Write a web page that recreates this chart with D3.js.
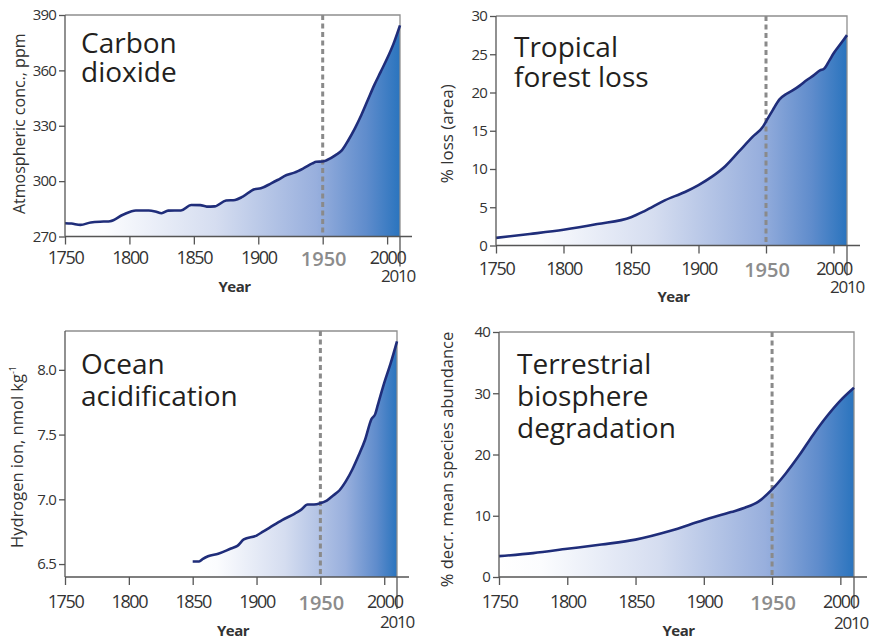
<!DOCTYPE html>
<html>
<head>
<meta charset="utf-8">
<script src="https://cdn.jsdelivr.net/npm/d3@7"></script>
<style>
	body { margin: 0; background: #ffffff; }
	svg { display: block; font-family: "Open Sans", sans-serif; }
</style>
</head>
<body>
<div id="chart"></div>
<script>
// Data:
var co2_years = [1750, 1755, 1762, 1770, 1780, 1785, 1795, 1805, 1815, 1820, 1825, 1830, 1840, 1848, 1855, 1860, 1866, 1875, 1882, 1888, 1897, 1902, 1910, 1915, 1922, 1928, 1935, 1942, 1945, 1950, 1953, 1960, 1965, 1970, 1975, 1980, 1985, 1990, 1995, 2000, 2005, 2010];
var co2_values = [277.2, 277.0, 276.3, 277.6, 278.1, 278.3, 281.8, 284.1, 284.1, 283.6, 282.6, 284.0, 284.1, 287.1, 287.0, 286.2, 286.3, 289.5, 289.8, 291.6, 295.6, 296.1, 298.8, 300.6, 303.3, 304.6, 306.9, 309.6, 310.5, 310.6, 311.3, 314.1, 316.8, 322.3, 328.6, 335.8, 343.9, 352.0, 359.2, 366.4, 374.5, 384.4];

var forest_years = [1750, 1775, 1800, 1825, 1850, 1860, 1875, 1890, 1900, 1910, 1920, 1930, 1940, 1948, 1950, 1955, 1960, 1965, 1970, 1975, 1980, 1985, 1990, 1993, 1997, 2000, 2005, 2010];
var forest_values = [1.0, 1.5, 2.05, 2.8, 3.7, 4.5, 5.9, 7.0, 7.9, 9.0, 10.4, 12.3, 14.2, 15.6, 16.2, 17.7, 19.1, 19.8, 20.3, 20.9, 21.6, 22.2, 22.9, 23.1, 24.2, 25.1, 26.3, 27.5];

var ocean_years = [1850, 1855, 1858, 1862, 1870, 1880, 1885, 1890, 1900, 1905, 1910, 1920, 1930, 1935, 1940, 1945, 1950, 1955, 1960, 1965, 1970, 1975, 1980, 1985, 1990, 1993, 1995, 2000, 2005, 2010];
var ocean_values = [6.52, 6.52, 6.54, 6.56, 6.58, 6.62, 6.64, 6.69, 6.72, 6.75, 6.78, 6.84, 6.89, 6.92, 6.96, 6.96, 6.97, 6.99, 7.03, 7.07, 7.14, 7.23, 7.34, 7.46, 7.62, 7.66, 7.73, 7.90, 8.05, 8.22];

var biosphere_years = [1750, 1775, 1800, 1825, 1850, 1875, 1900, 1920, 1930, 1940, 1950, 1960, 1970, 1980, 1990, 2000, 2010];
var biosphere_values = [3.4, 3.9, 4.6, 5.3, 6.1, 7.5, 9.3, 10.6, 11.3, 12.3, 14.3, 16.9, 19.9, 23.2, 26.2, 28.8, 30.9];

// Tick labels:
var year_ticks = [1750, 1800, 1850, 1900, 1950, 2000];
var co2_ticks = [270, 300, 330, 360, 390];
var forest_ticks = [0, 5, 10, 15, 20, 25, 30];
var ocean_ticks = [6.5, 7.0, 7.5, 8.0];
var biosphere_ticks = [0, 10, 20, 30, 40];

var svg = d3.select("#chart")
	.append("svg")
	.attr("width", 871)
	.attr("height", 639);

// Shared gradient for the filled areas:
var defs = svg.append("defs");
var grad = defs.append("linearGradient")
	.attr("id", "blueFade")
	.attr("x1", 0).attr("x2", 1).attr("y1", 0).attr("y2", 0);
[[0, "#ffffff"], [0.12, "#fbfcfe"], [0.45, "#d5ddf0"], [0.75, "#98afdd"], [0.9, "#5f8ccc"], [1, "#2a74be"]]
	.forEach(function(s){
		grad.append("stop").attr("offset", s[0]).attr("stop-color", s[1]);
	});

function createPanel(p)
{
	var g = svg.append("g");

	var xScale = d3.scaleLinear()
		.domain([1750, 2010])
		.range([p.left, p.right]);

	var yScale = d3.scaleLinear()
		.domain(p.yDomain)
		.range([p.bottom, p.top]);

	var data = p.years.map(function(d, i){ return [d, p.values[i]]; });

	// Filled area under the curve:
	var area = d3.area()
		.x(function(d){ return xScale(d[0]); })
		.y0(p.bottom)
		.y1(function(d){ return yScale(d[1]); })
		.curve(d3.curveMonotoneX);

	g.append("path")
		.datum(data)
		.attr("d", area)
		.attr("fill", "url(#blueFade)");

	// Frame (top and right):
	g.append("path")
		.attr("d", "M" + p.left + "," + p.top + "H" + p.right + "V" + p.bottom)
		.attr("fill", "none")
		.attr("stroke", "#8f8f8f")
		.attr("stroke-width", 1.3);

	// 2010 line keeps going down as a long tick:
	g.append("line")
		.attr("x1", xScale(2010)).attr("x2", xScale(2010))
		.attr("y1", p.bottom).attr("y2", p.bottom + p.longTick)
		.attr("stroke", "#555").attr("stroke-width", 1.3);

	// 1950 dashed marker:
	g.append("line")
		.attr("x1", xScale(1950)).attr("x2", xScale(1950))
		.attr("y1", p.top).attr("y2", p.bottom)
		.attr("stroke", "#8a8a8a")
		.attr("stroke-width", 3)
		.attr("stroke-dasharray", "5,3.5");

	// The curve itself:
	var line = d3.line()
		.x(function(d){ return xScale(d[0]); })
		.y(function(d){ return yScale(d[1]); })
		.curve(d3.curveMonotoneX);

	g.append("path")
		.datum(data)
		.attr("d", line)
		.attr("fill", "none")
		.attr("stroke", "#1f2d7a")
		.attr("stroke-width", 2.6)
		.attr("stroke-linejoin", "round");

	// X axis:
	var xAxisCall = d3.axisBottom(xScale)
		.tickValues(year_ticks)
		.tickSize(8)
		.tickFormat(function(d){ return d == 1950 ? "" : d; });

	var x_axis_group = g.append("g")
		.attr("transform", "translate(0," + p.bottom + ")")
		.call(xAxisCall);

	x_axis_group.select(".domain")
		.attr("d", "M" + p.left + ",0H" + (p.right + p.axisOver));

	x_axis_group.selectAll("text")
		.attr("y", p.tickLabelY)
		.attr("dy", null)
		.attr("font-size", "18px")
		.attr("letter-spacing", "-1.4px")
		.attr("font-family", "Open Sans, sans-serif")
		.attr("fill", "#333");

	// Big grey 1950 label:
	g.append("text")
		.attr("x", xScale(1950) + 1)
		.attr("y", p.bottom + p.tickLabelY + 2)
		.attr("text-anchor", "middle")
		.attr("font-size", "20px")
		.attr("font-weight", 600)
		.attr("fill", "#8c8c8c")
		.text("1950");

	g.append("text")
		.attr("x", xScale(2010) + p.shift2010)
		.attr("y", p.bottom + p.label2010Y)
		.attr("text-anchor", "middle")
		.attr("font-size", "17px")
		.attr("letter-spacing", "-1.2px")
		.attr("fill", "#333")
		.text("2010");

	g.append("text")
		.attr("x", (p.left + p.right) / 2 + 2)
		.attr("y", p.bottom + p.yearY)
		.attr("text-anchor", "middle")
		.attr("font-size", "15px")
		.attr("font-weight", "bold")
		.attr("letter-spacing", "-0.5px")
		.attr("fill", "#333")
		.text("Year");

	// Y axis:
	var yAxisCall = d3.axisLeft(yScale)
		.tickValues(p.yTicks)
		.tickSize(6)
		.tickFormat(p.yFormat);

	var y_axis_group = g.append("g")
		.attr("transform", "translate(" + p.left + ",0)")
		.call(yAxisCall);

	y_axis_group.select(".domain")
		.attr("d", "M0," + p.top + "V" + p.bottom);

	y_axis_group.selectAll("text")
		.attr("font-size", "15px")
		.attr("letter-spacing", "-0.8px")
		.attr("font-family", "Open Sans, sans-serif")
		.attr("fill", "#333");

	g.selectAll(".domain, .tick line")
		.attr("stroke", "#555")
		.attr("stroke-width", 1.3);

	// Y axis label:
	var yl = g.append("text")
		.attr("transform", "translate(" + p.yLabelX + "," + ((p.top + p.bottom) / 2 + p.yLabelShift) + ") rotate(-90)")
		.attr("text-anchor", "middle")
		.attr("font-size", p.yLabelSize)
		.attr("fill", "#333");
	yl.append("tspan").text(p.yLabel);
	if(p.yLabelSup)
		yl.append("tspan")
			.attr("font-size", "9px")
			.attr("dy", -7)
			.text(p.yLabelSup);

	// Title, one text per line:
	p.title.forEach(function(t, i){
		g.append("text")
			.attr("x", p.titleX)
			.attr("y", p.titleY + i * p.titleGap)
			.attr("font-size", "28px")
			.attr("fill", "#231f20")
			.text(t);
	});
}

createPanel({
	years: co2_years, values: co2_values,
	left: 65, right: 400, top: 15, bottom: 236.5,
	yDomain: [270, 390], yTicks: co2_ticks, yFormat: d3.format("d"),
	longTick: 30, axisOver: 12,
	tickLabelY: 27, label2010Y: 45, yearY: 55, shift2010: -2,
	yLabel: "Atmospheric conc., ppm", yLabelX: 25, yLabelShift: -2, yLabelSize: "16px",
	title: ["Carbon", "dioxide"], titleX: 81, titleY: 53, titleGap: 29
});

createPanel({
	years: forest_years, values: forest_values,
	left: 496, right: 847, top: 16, bottom: 245.5,
	yDomain: [0, 30], yTicks: forest_ticks, yFormat: d3.format("d"),
	longTick: 30, axisOver: 13,
	tickLabelY: 29, label2010Y: 47, yearY: 56, shift2010: 0,
	yLabel: "% loss (area)", yLabelX: 453, yLabelShift: 3, yLabelSize: "17px",
	title: ["Tropical", "forest loss"], titleX: 514, titleY: 57, titleGap: 30
});

createPanel({
	years: ocean_years, values: ocean_values,
	left: 65, right: 397, top: 331, bottom: 577,
	yDomain: [6.4, 8.3], yTicks: ocean_ticks, yFormat: d3.format(".1f"),
	longTick: 32, axisOver: 12,
	tickLabelY: 31, label2010Y: 51, yearY: 59, shift2010: 0,
	yLabel: "Hydrogen ion, nmol kg", yLabelSup: "-1", yLabelX: 23, yLabelShift: 3, yLabelSize: "16.5px",
	title: ["Ocean", "acidification"], titleX: 81, titleY: 374, titleGap: 32
});

createPanel({
	years: biosphere_years, values: biosphere_values,
	left: 499, right: 854, top: 332, bottom: 577,
	yDomain: [0, 40], yTicks: biosphere_ticks, yFormat: d3.format("d"),
	longTick: 32, axisOver: 13,
	tickLabelY: 31, label2010Y: 52, yearY: 59, shift2010: -3,
	yLabel: "% decr. mean species abundance", yLabelX: 453, yLabelShift: 5, yLabelSize: "16.5px",
	title: ["Terrestrial", "biosphere", "degradation"], titleX: 517, titleY: 374, titleGap: 32
});
</script>
</body>
</html>
